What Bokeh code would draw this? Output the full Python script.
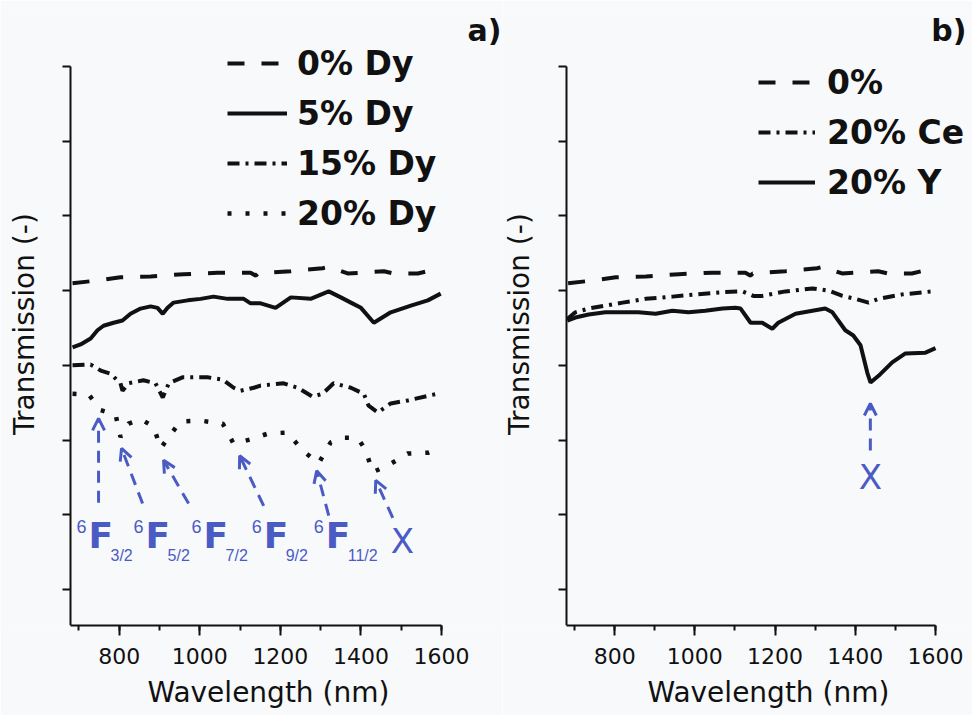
import numpy as np
from bokeh.plotting import figure
from bokeh.models import (Range1d, FixedTicker, SingleIntervalTicker, Legend, LegendItem, LinearAxis,
                          Label, Arrow, OpenHead, ColumnDataSource, CustomJSTickFormatter, Title)
from bokeh.layouts import row
from bokeh.embed import file_html
from bokeh.resources import INLINE
from bokeh.core.properties import value

# ---------------- data ----------------
# 0 % (undoped) - same sample in both panels
wl_0 = [684, 754, 803, 878, 960, 1044, 1126, 1139, 1144, 1226, 1305, 1320, 1367, 1400, 1457, 1481, 1541, 1573, 1591]
tr_0 = [0.510, 0.514, 0.518, 0.519, 0.522, 0.524, 0.524, 0.520, 0.523, 0.526, 0.530, 0.532, 0.523, 0.524, 0.526, 0.523, 0.523, 0.527, 0.528]

# 5 % Dy
wl_5 = [684, 704, 729, 746, 761, 786, 808, 828, 853, 878, 895, 908, 920, 935, 970, 1002, 1034, 1069, 1109,
        1126, 1151, 1188, 1226, 1275, 1320, 1350, 1375, 1400, 1432, 1474, 1524, 1566, 1598]
tr_5 = [0.424, 0.428, 0.436, 0.447, 0.453, 0.457, 0.460, 0.469, 0.476, 0.479, 0.477, 0.469, 0.477, 0.484, 0.487, 0.489, 0.492, 0.489, 0.489,
        0.483, 0.483, 0.477, 0.491, 0.489, 0.499, 0.491, 0.484, 0.477, 0.457, 0.471, 0.480, 0.487, 0.496]

# 15 % Dy
wl_15 = [684, 729, 754, 778, 803, 808, 823, 860, 890, 908, 923, 957, 1019, 1057, 1084, 1101, 1134, 1151,
         1208, 1243, 1280, 1305, 1332, 1375, 1407, 1419, 1442, 1474, 1516, 1573, 1591]
tr_15 = [0.400, 0.401, 0.393, 0.389, 0.376, 0.366, 0.376, 0.380, 0.376, 0.357, 0.376, 0.384, 0.384, 0.381, 0.370, 0.366, 0.370, 0.373,
         0.376, 0.370, 0.358, 0.362, 0.376, 0.370, 0.362, 0.346, 0.337, 0.349, 0.353, 0.360, 0.362]

# 20 % Dy
wl_20 = [684, 724, 754, 791, 803, 823, 853, 885, 903, 920, 952, 1002, 1057, 1084, 1126, 1171, 1218, 1255,
         1295, 1325, 1357, 1392, 1412, 1429, 1467, 1516, 1566, 1582]
tr_20 = [0.362, 0.361, 0.340, 0.334, 0.304, 0.322, 0.328, 0.318, 0.289, 0.302, 0.325, 0.326, 0.322, 0.295, 0.301, 0.309, 0.310, 0.286,
         0.269, 0.297, 0.303, 0.303, 0.286, 0.257, 0.266, 0.282, 0.283, 0.286]

# 20 % Ce
wl_ce = [682, 702, 735, 777, 820, 877, 944, 1002, 1069, 1119, 1146, 1168, 1226, 1293, 1333, 1368, 1400, 1433, 1458, 1517, 1592, 1600]
tr_ce = [0.462, 0.471, 0.476, 0.480, 0.484, 0.489, 0.492, 0.495, 0.498, 0.499, 0.493, 0.493, 0.499, 0.503, 0.500, 0.493, 0.489, 0.484, 0.489, 0.495, 0.499, 0.499]

# 20 % Y
wl_y = [682, 702, 735, 777, 859, 902, 944, 984, 1026, 1069, 1101, 1114, 1139, 1151, 1168, 1193, 1208, 1251,
        1293, 1325, 1343, 1375, 1395, 1413, 1430, 1438, 1458, 1492, 1525, 1575, 1600]
tr_y = [0.460, 0.464, 0.468, 0.471, 0.471, 0.469, 0.473, 0.471, 0.473, 0.476, 0.477, 0.476, 0.457, 0.457, 0.457, 0.449, 0.457, 0.469,
        0.473, 0.476, 0.471, 0.447, 0.440, 0.427, 0.390, 0.377, 0.386, 0.404, 0.416, 0.417, 0.423]

y_ticks = [0.1, 0.2, 0.3, 0.4, 0.5, 0.6, 0.7, 0.8]

legend_a = ["0% Dy", "5% Dy", "15% Dy", "20% Dy"]
legend_b = ["0%", "20% Ce", "20% Y"]

# annotation (panel a): arrow tails / tips, term labels
arr_a_x0 = [748.6, 857.9, 972.2, 1158.5, 1320.0, 1479.0]
arr_a_y0 = [0.216, 0.215, 0.215, 0.212, 0.199, 0.196]
arr_a_x1 = [748.6, 805.7, 910.0, 1098.9, 1290.2, 1436.8]
arr_a_y1 = [0.329, 0.289, 0.273, 0.279, 0.259, 0.246]
term_x = [723.7, 865.3, 1009.4, 1158.5, 1312.5]
term_y = [0.172, 0.172, 0.172, 0.172, 0.172]
term_main = ["F", "F", "F", "F", "F"]
term_sup = ["6", "6", "6", "6", "6"]
term_sub = ["3/2", "5/2", "7/2", "9/2", "11/2"]
xa_label = (1474.0, 0.1655)
# annotation (panel b)
arr_b = (1437.5, 0.286, 1437.5, 0.349)
xb_label = (1437.5, 0.250)

# ---------------- style / layout ----------------
FONT = "DejaVu Sans"
BLUE = "#4a5bc4"
BG = "#f8f9fb"
INK = "#111111"
Y_LO, Y_TOP, Y_HI = 0.0518, 0.8, 0.8723
LW = 4
DASH = "17 17"
DASHDOT = "12 6 3 6"
DOT = "4 14"


def make_fig(bounds, x_lo, x_hi, width, xtitle_offset, ytitle_x):
    p = figure(width=width, height=715, x_range=Range1d(x_lo, x_hi), y_range=Range1d(Y_LO, Y_HI),
               output_backend="svg", toolbar_location=None, y_axis_location=None,
               min_border_left=0, min_border_right=0, min_border_top=12, min_border_bottom=90)
    p.background_fill_color = BG
    p.border_fill_color = BG
    p.outline_line_color = None
    p.grid.visible = False
    xa = p.xaxis[0]
    xa.bounds = bounds
    xa.ticker = SingleIntervalTicker(interval=200, num_minor_ticks=2)
    xa.major_label_text_font = FONT
    xa.major_label_text_font_size = "22px"
    xa.major_label_text_color = INK
    xa.major_label_standoff = 12
    xa.major_tick_out = 10
    xa.minor_tick_out = 5
    xa.major_tick_in = 0
    xa.minor_tick_in = 0
    # y axis drawn at the left end of the wavelength span, ticks pointing left
    ya = LinearAxis(fixed_location=bounds[0], bounds=(Y_LO, Y_TOP),
                    ticker=FixedTicker(ticks=y_ticks, minor_ticks=[]),
                    formatter=CustomJSTickFormatter(code="return ''"),
                    major_tick_in=8, major_tick_out=0, minor_tick_in=0, minor_tick_out=0,
                    major_label_standoff=0)
    p.add_layout(ya, "right")
    for ax in (xa, ya):
        ax.axis_line_width = 2
        ax.axis_line_color = INK
        ax.major_tick_line_width = 2
        ax.major_tick_line_color = INK
        ax.minor_tick_line_width = 2
        ax.minor_tick_line_color = INK
    p.add_layout(Title(text="Wavelength (nm)", align="left", offset=xtitle_offset, text_font=FONT,
                       text_font_size="28px", text_font_style="normal", text_color=INK, standoff=14), "below")
    p.text(x=[ytitle_x], y=[0.4553], text=["Transmission (-)"], angle=np.pi / 2, text_align="center",
           text_baseline="middle", text_font=value(FONT), text_font_size="28px", text_color=INK)
    return p


def legend(items, loc, glyph_w, standoff):
    return Legend(items=items, location=loc, label_text_font=FONT, label_text_font_size="33px",
                  label_text_font_style="bold", label_text_color=INK,
                  glyph_width=glyph_w, glyph_height=40, label_height=40, label_standoff=standoff,
                  spacing=10, padding=0, margin=0, border_line_color=None, background_fill_alpha=0)


# ---------------- panel a ----------------
pa = make_fig((679, 1600), 505.2, 1751.4, 502, 147, 564.8)
r0 = pa.line(wl_0, tr_0, line_width=LW, line_color=INK, line_dash=DASH)
r5 = pa.line(wl_5, tr_5, line_width=LW, line_color=INK)
r15 = pa.line(wl_15, tr_15, line_width=LW, line_color=INK, line_dash=DASHDOT)
r20 = pa.line(wl_20, tr_20, line_width=LW + 0.5, line_color=INK, line_dash=DOT)
pa.add_layout(legend([LegendItem(label=l, renderers=[r]) for l, r in zip(legend_a, [r0, r5, r15, r20])],
                     (227, 392), 60, 10))

src_arr = ColumnDataSource(dict(x0=arr_a_x0, y0=arr_a_y0, x1=arr_a_x1, y1=arr_a_y1))
pa.add_layout(Arrow(x_start="x0", y_start="y0", x_end="x1", y_end="y1", source=src_arr,
                    line_color=BLUE, line_width=3, line_dash="12 8",
                    end=OpenHead(size=12, line_color=BLUE, line_width=3)))
src_t = ColumnDataSource(dict(x=term_x, y=term_y, main=term_main, sup=term_sup, sub=term_sub))
pa.text(x="x", y="y", text="main", source=src_t, text_font=value(FONT), text_font_style="bold",
        text_font_size="36px", text_color=BLUE, text_align="left", text_baseline="middle")
pa.text(x="x", y="y", text="sup", source=src_t, text_font=value("Liberation Sans"),
        text_font_size="18px", text_color=BLUE, text_align="left", text_baseline="middle",
        x_offset=-12, y_offset=-9)
pa.text(x="x", y="y", text="sub", source=src_t, text_font=value("Liberation Sans"),
        text_font_size="16px", text_color=BLUE, text_align="left", text_baseline="middle",
        x_offset=22, y_offset=20)
pa.text(x=[xa_label[0]], y=[xa_label[1]], text=["X"], text_font=value(FONT), text_font_size="34px",
        text_color=BLUE, text_align="left", text_baseline="middle")
pa.add_layout(Label(x=1749, y=0.848, text="a)", text_align="right", text_baseline="middle",
                    text_font=FONT, text_font_size="30px", text_font_style="bold", text_color=INK))

# ---------------- panel b ----------------
pb = make_fig((680, 1600), 520.4, 1692.2, 470, 145, 562.8)
b0 = pb.line(wl_0, tr_0, line_width=LW, line_color=INK, line_dash=DASH)
bce = pb.line(wl_ce, tr_ce, line_width=LW, line_color=INK, line_dash=DASHDOT)
by = pb.line(wl_y, tr_y, line_width=LW, line_color=INK)
pb.add_layout(legend([LegendItem(label=l, renderers=[r]) for l, r in zip(legend_b, [b0, bce, by])],
                     (256, 423), 57, 12))
pb.add_layout(Arrow(x_start=arr_b[0], y_start=arr_b[1], x_end=arr_b[2], y_end=arr_b[3],
                    line_color=BLUE, line_width=3, line_dash="12 8",
                    end=OpenHead(size=12, line_color=BLUE, line_width=3)))
pb.text(x=[xb_label[0]], y=[xb_label[1]], text=["X"], text_font=value(FONT), text_font_size="34px",
        text_color=BLUE, text_align="center", text_baseline="middle")
pb.add_layout(Label(x=1677, y=0.848, text="b)", text_align="right", text_baseline="middle",
                    text_font=FONT, text_font_size="30px", text_font_style="bold", text_color=INK))

layout = row(pa, pb)
open("out.html", "w").write(file_html(layout, INLINE))
